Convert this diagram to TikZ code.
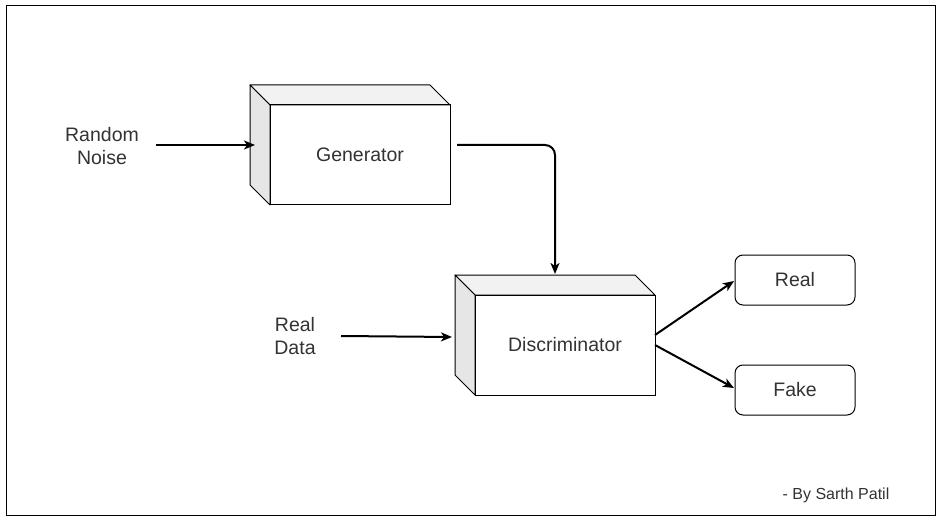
\documentclass[tikz,border=0pt]{standalone}
\usepackage{fontspec}
\setmainfont{Liberation Sans}
\usetikzlibrary{arrows.meta,calc}
\definecolor{sideface}{HTML}{E6E6E6}
\definecolor{topface}{HTML}{F2F2F2}
\definecolor{txt}{HTML}{333333}
\begin{document}
\begin{tikzpicture}[x=1pt,y=-1pt,
  font=\fontsize{19.5}{23}\selectfont,
  front/.style={draw=black,line width=1pt,fill=white,minimum width=180pt,minimum height=100pt,inner sep=0pt,outer sep=0pt,text=txt},
  facebox/.style={draw=black,line width=1pt,line join=round},
  outbox/.style={draw=black,line width=1pt,rounded corners=8pt,fill=white,minimum width=120pt,minimum height=50pt,inner sep=0pt,outer sep=0pt,text=txt},
  lbl/.style={align=center,inner sep=0pt,text=txt},
  conn/.style={line width=2pt,-{Stealth[length=11pt,width=9pt,inset=3pt]}},
]
\useasboundingbox (0,0) rectangle (941,521);
\fill[white] (0,0) rectangle (941,521);
\node[draw=black,line width=1pt,minimum width=929pt,minimum height=510pt,inner sep=0pt,outer sep=0pt] (frame) at (470.5,260.5) {};

% Generator
\node[front] (gen) at (360,155) {Generator};
\path[facebox,fill=topface] (gen.north west) -- ++(-20,-20) -- ($(gen.north east)+(-20,-20)$) -- (gen.north east) -- cycle;
\path[facebox,fill=sideface] (gen.north west) -- ++(-20,-20) -- ($(gen.south west)+(-20,-20)$) -- (gen.south west) -- cycle;
\draw[line width=1pt] (gen.north west) rectangle (gen.south east);

% Discriminator
\node[front] (disc) at (565,345) {Discriminator};
\path[facebox,fill=topface] (disc.north west) -- ++(-20,-20) -- ($(disc.north east)+(-20,-20)$) -- (disc.north east) -- cycle;
\path[facebox,fill=sideface] (disc.north west) -- ++(-20,-20) -- ($(disc.south west)+(-20,-20)$) -- (disc.south west) -- cycle;
\draw[line width=1pt] (disc.north west) rectangle (disc.south east);

% Outputs
\node[outbox] (real) at (795,280) {Real};
\node[outbox] (fake) at (795,390) {Fake};

% Labels
\node[lbl] (noise) at (102,146) {Random\\Noise};
\node[lbl] (rdata) at (295,336) {Real\\Data};
\node[inner sep=0pt,text=txt,font=\fontsize{16}{19}\selectfont] (credit) at (836,495) {- By Sarth Patil};

% Connectors
\coordinate (noiseS) at (156,145);
\coordinate (genIn) at (255,145);
\draw[conn] (noiseS) -- (genIn);

\coordinate (genOut) at (457,145);
\coordinate (discTop) at (555,274);
\draw[conn,rounded corners=10pt] (genOut) -- (discTop |- genOut) -- (discTop);

\coordinate (rdataS) at (341,336);
\coordinate (discIn) at (452,337);
\draw[conn] (rdataS) -- (discIn);

\coordinate (discOutA) at (655,335);
\coordinate (discOutB) at (655,345);
\draw[conn] (discOutA) -- ($(real.west)+(-1,1)$);
\draw[conn] (discOutB) -- ($(fake.west)+(-1,-2)$);
\end{tikzpicture}
\end{document}
